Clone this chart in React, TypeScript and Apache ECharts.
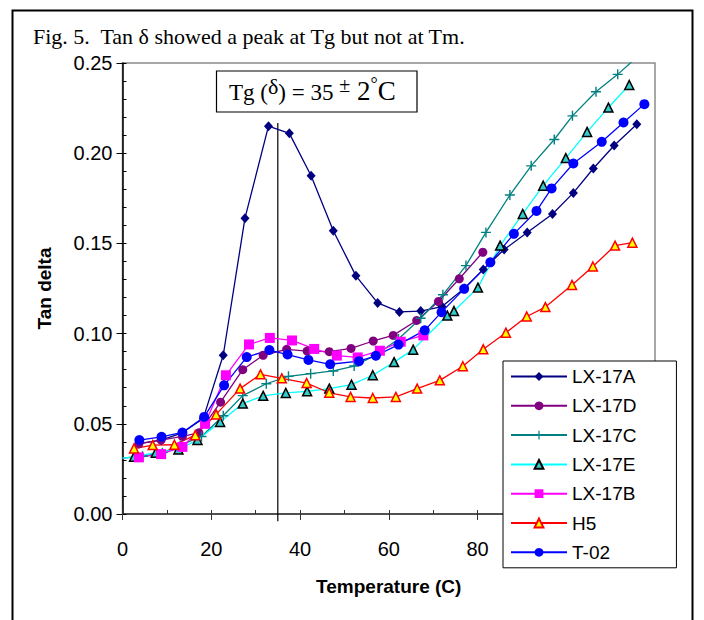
import React, { useEffect, useRef } from "react";
import * as echarts from "echarts";

const seriesNames = ["LX-17A", "LX-17D", "LX-17C", "LX-17E", "LX-17B", "H5", "T-02"];

const lx17a = [
  [3.7, 0.039], [8.7, 0.041], [13.5, 0.045], [18.2, 0.053], [22.7, 0.088], [27.6, 0.164],
  [32.9, 0.215], [37.6, 0.211], [42.5, 0.1875], [47.5, 0.157], [52.6, 0.132], [57.5, 0.117],
  [62.4, 0.112], [67.2, 0.1125], [72, 0.115], [77, 0.125], [81.3, 0.1355], [86, 0.1466],
  [91.2, 0.156], [96.9, 0.1663], [101.6, 0.178], [106.1, 0.1915], [110.8, 0.2043], [115.9, 0.216],
];
const lx17d = [
  [3.7, 0.039], [8.7, 0.041], [13.5, 0.043], [17.2, 0.045], [22.1, 0.062], [27.1, 0.08],
  [31.7, 0.088], [37, 0.0913], [41.6, 0.0903], [46.6, 0.09], [51.5, 0.0918], [56.5, 0.0959],
  [61, 0.099], [66.3, 0.1073], [71.2, 0.1178], [75.9, 0.1304], [81.2, 0.1451],
];
const lx17c = [
  [0, 0.031], [4.5, 0.032], [9, 0.034], [13, 0.038], [17.8, 0.043], [22.7, 0.0545],
  [27.1, 0.0656], [32.4, 0.0722], [37.4, 0.0763], [42.4, 0.0778], [47.5, 0.0793], [52.2, 0.082],
  [57, 0.088], [62.2, 0.097], [67.2, 0.1085], [72.2, 0.1215], [77.4, 0.1377], [81.9, 0.1561],
  [87.3, 0.1768], [92.1, 0.193], [97.3, 0.2076], [101.4, 0.2207], [106.7, 0.2341], [111.6, 0.2437],
  [116.5, 0.2545],
];
const lx17e = [
  [0, 0.031], [2.6, 0.0317], [7.5, 0.034], [12.6, 0.0358], [16.9, 0.041], [22, 0.051],
  [27.1, 0.0612], [31.7, 0.0655], [36.8, 0.0671], [41.6, 0.068], [46.6, 0.0695], [51.6, 0.0717],
  [56.4, 0.0769], [61.2, 0.0842], [65.5, 0.0911], [73.2, 0.11], [74.7, 0.1125], [80.1, 0.1255],
  [85.1, 0.1488], [90.2, 0.1663], [94.8, 0.182], [99.9, 0.1973], [104.7, 0.2118], [109.5, 0.2253],
  [114.2, 0.2378],
];
const lx17b = [
  [3.7, 0.0314], [8.7, 0.0332], [13.5, 0.0372], [18.6, 0.05], [23.3, 0.0769], [28.5, 0.094],
  [33.2, 0.0976], [38.2, 0.0962], [43.2, 0.0915], [48.3, 0.0878], [53, 0.0868], [58, 0.0905],
  [62.7, 0.0955], [67.8, 0.099],
];
const h5 = [
  [2.6, 0.0363], [6.8, 0.0382], [11.7, 0.0384], [16.4, 0.0437], [21.1, 0.0552], [26.5, 0.0695],
  [31.1, 0.0774], [35.9, 0.0752], [41.5, 0.0726], [46.6, 0.0672], [51.4, 0.0649], [56.4, 0.0643],
  [61.6, 0.0649], [66.4, 0.0695], [71.5, 0.0741], [76.7, 0.0819], [81.3, 0.0913], [86.4, 0.1005],
  [91.1, 0.1095], [95.3, 0.1147], [101.3, 0.127], [106, 0.1372], [111, 0.1488], [114.9, 0.1504],
];
const t02 = [
  [3.8, 0.041], [8.8, 0.0428], [13.5, 0.0452], [18.4, 0.0538], [22.9, 0.0713], [28, 0.087],
  [33.1, 0.0909], [37.2, 0.0884], [41.9, 0.0854], [46.8, 0.083], [53.3, 0.0847], [57.1, 0.0877],
  [62.2, 0.0939], [68.1, 0.1018], [71.9, 0.1119], [77, 0.1248], [82.9, 0.1395], [88.2, 0.1553],
  [93.3, 0.168], [96.7, 0.1805], [101.6, 0.1943], [108, 0.2063], [112.9, 0.217], [117.6, 0.2272],
];
// vertical marker at Tg = 35 °C
const tgLine = [[35, -0.004], [35, 0.2168]];

const xMin = 0, xMax = 120, xStep = 20, xMinor = 10;
// labels beyond this value sit under the legend box in the reference
const xLastVisibleLabel = 80;
const yMin = 0, yMax = 0.25, yStep = 0.05, yMinor = 0.01;

const SANS = "'Liberation Sans', Arial, sans-serif";
const SERIF = "'Liberation Serif', 'Times New Roman', serif";
const PLUS = "path://M4.3,0H5.7V4.3H10V5.7H5.7V10H4.3V5.7H0V4.3H4.3Z";

function hideAtAxis(data: number[][]) {
  return data.map((p) => (p[0] === 0 ? { value: p, symbol: "none" } : p));
}

export default function App() {
  const ref = useRef<HTMLDivElement>(null);
  useEffect(() => {
    const chart = echarts.init(ref.current!, null, { renderer: "svg" });
    const mk = (name: string, data: any[], lineColor: string, symbol: string, symbolSize: any, itemStyle: any) => ({
      name,
      type: "line",
      data,
      symbol,
      symbolSize,
      xAxisIndex: 0,
      yAxisIndex: 0,
      lineStyle: { color: lineColor, width: 1.3 },
      itemStyle,
      z: 3,
    });
    const option: any = {
      animation: false,
      backgroundColor: "#ffffff",
      textStyle: { fontFamily: SANS },
      grid: { left: 122.5, top: 63, width: 532.5, height: 451, show: true, borderColor: "#8c8c8c", borderWidth: 1.5, backgroundColor: "transparent" },
      xAxis: [
        {
          type: "value", min: xMin, max: xMax, interval: xStep, position: "bottom",
          axisLine: { show: true, lineStyle: { color: "#333", width: 1.5 } },
          axisTick: { show: true, inside: false, length: 6, lineStyle: { color: "#333" } },
          axisLabel: {
            margin: 25, fontSize: 20, color: "#000", fontFamily: SANS,
            formatter: (v: number) => (v <= xLastVisibleLabel ? String(v) : ""),
          },
          splitLine: { show: false },
          name: "Temperature (C)", nameLocation: "middle", nameGap: 63,
          nameTextStyle: { fontSize: 19, fontWeight: "bold", color: "#000", fontFamily: SANS },
        },
        {
          type: "value", min: xMin, max: xMax, interval: xMinor, position: "bottom",
          axisLine: { show: false },
          axisTick: { show: true, inside: true, length: 4, lineStyle: { color: "#333" } },
          axisLabel: { show: false },
          splitLine: { show: false },
        },
      ],
      yAxis: [
        {
          type: "value", min: yMin, max: yMax, interval: yStep, position: "left",
          axisLine: { show: true, lineStyle: { color: "#000", width: 1.5 } },
          axisTick: { show: true, inside: false, length: 6, lineStyle: { color: "#000" } },
          axisLabel: { margin: 10, fontSize: 20, color: "#000", fontFamily: SANS, formatter: (v: number) => v.toFixed(2) },
          splitLine: { show: false },
          name: "Tan delta", nameLocation: "middle", nameGap: 69,
          nameTextStyle: { fontSize: 19, fontWeight: "bold", color: "#000", fontFamily: SANS },
        },
        {
          type: "value", min: yMin, max: yMax, interval: yMinor, position: "left",
          axisLine: { show: false },
          axisTick: { show: true, inside: true, length: 4, lineStyle: { color: "#000" } },
          axisLabel: { show: false },
          splitLine: { show: false },
        },
      ],
      legend: {
        data: seriesNames,
        orient: "vertical",
        left: 503,
        top: 361,
        itemWidth: 56,
        itemHeight: 11,
        itemGap: 10.3,
        padding: [6, 40, 6, 7],
        backgroundColor: "#fff",
        borderColor: "#000",
        borderWidth: 1,
        textStyle: { fontSize: 19, lineHeight: 18, color: "#000", fontFamily: SANS },
        z: 10,
      },
      series: [
        mk(seriesNames[0], lx17a, "#000080", "diamond", [9, 10], { color: "#000080" }),
        mk(seriesNames[1], lx17d, "#800080", "circle", 9, { color: "#800080" }),
        mk(seriesNames[2], hideAtAxis(lx17c), "#008080", PLUS, 10, { color: "#008080" }),
        mk(seriesNames[3], hideAtAxis(lx17e), "#00ffff", "triangle", 9, { color: "#33cccc", borderColor: "#000", borderWidth: 1.5 }),
        mk(seriesNames[4], lx17b, "#ff00ff", "rect", 10, { color: "#ff00ff" }),
        mk(seriesNames[5], h5, "#ff0000", "triangle", 9, { color: "#ffff00", borderColor: "#ff0000", borderWidth: 1.5 }),
        mk(seriesNames[6], t02, "#0000ff", "circle", 10, { color: "#0000ff" }),
        {
          name: "Tg", type: "line", data: tgLine, symbol: "none", clip: false, silent: true,
          lineStyle: { color: "#000", width: 1.2 }, z: 2,
        },
      ],
      graphic: [
        {
          type: "rect", left: 10, top: 8, z: 100, silent: true,
          shape: { x: 0, y: 0, width: 680, height: 700 },
          style: { fill: "none", stroke: "#000", lineWidth: 2 },
        },
        {
          type: "text", left: 33, top: 25, z: 100,
          style: { text: "Fig. 5.  Tan \u03b4 showed a peak at Tg but not at Tm.", fontSize: 22, fontFamily: SERIF, fill: "#000" },
        },
        {
          type: "rect", z: 100,
          shape: { x: 216.5, y: 71, width: 200.5, height: 41 },
          style: { fill: "#fff", stroke: "#000", lineWidth: 1.2 },
        },
        {
          type: "text", z: 101, x: 229, y: 75,
          style: {
            text: "{a|Tg (}{d|\u03b4}{a|) = 35 }{p|\u00b1}{b| 2}{o|\u00b0}{b|C}",
            fontFamily: SERIF,
            fill: "#000",
            rich: {
              a: { fontSize: 23, lineHeight: 23, verticalAlign: "bottom", fontFamily: SERIF, fill: "#000" },
              d: { fontSize: 22, lineHeight: 22, verticalAlign: "top", fontFamily: SERIF, fill: "#000" },
              p: { fontSize: 20, lineHeight: 22, verticalAlign: "top", fontFamily: SERIF, fill: "#000" },
              b: { fontSize: 27, lineHeight: 29, verticalAlign: "bottom", fontFamily: SERIF, fill: "#000" },
              o: { fontSize: 18, lineHeight: 26, verticalAlign: "top", fontFamily: SERIF, fill: "#000" },
            },
          },
        },
      ],
    };
    chart.setOption(option);
    return () => chart.dispose();
  }, []);
  return (
    <div
      ref={ref}
      style={{ position: "fixed", left: 0, top: 0, width: 704, height: 620, background: "#fff" }}
    />
  );
}
